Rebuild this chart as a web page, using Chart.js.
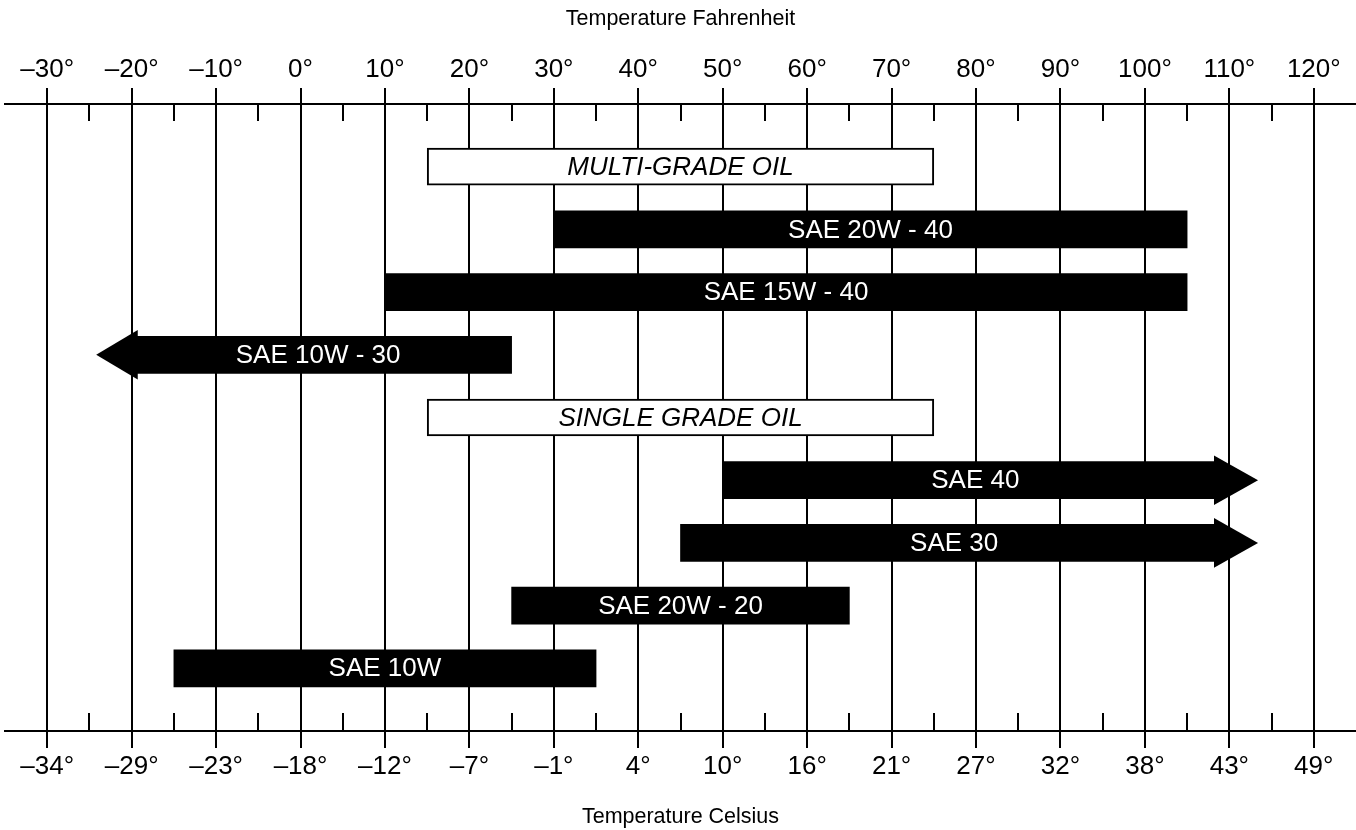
<!DOCTYPE html>
<html>
<head>
<meta charset="utf-8">
<title>Oil viscosity by temperature</title>
<script src="https://cdn.jsdelivr.net/npm/chart.js@4.4.1/dist/chart.umd.min.js"></script>
<style>
  html, body { margin: 0; padding: 0; background: #fff; }
  #wrap { width: 1356px; height: 830px; }
</style>
</head>
<body>
<div id="wrap"><canvas id="chartCanva"></canvas></div>
<script>
// rows, top to bottom
const grades = [
    "MULTI-GRADE OIL",
    "SAE 20W - 40",
    "SAE 15W - 40",
    "SAE 10W - 30",
    "SINGLE GRADE OIL",
    "SAE 40",
    "SAE 30",
    "SAE 20W - 20",
    "SAE 10W",
];
// ranges in °F (start / end of the bar body)
const rangeStart = [15, 30, 10, -19.4, 15, 50, 45, 25, -15];
const rangeEnd = [75, 105, 105, 25, 75, 108.3, 108.3, 65, 35];
// arrow tips in °F (null = plain bar)
const arrowTip = [null, null, null, -24.2, null, 113.4, 113.4, null, null];
// header rows drawn as white boxes
const isHeader = [true, false, false, false, true, false, false, false, false];

// axis ticks
const fahrenheitTicks = [-30, -20, -10, 0, 10, 20, 30, 40, 50, 60, 70, 80, 90, 100, 110, 120];
const fahrenheitLabels = ["–30°", "–20°", "–10°", "0°", "10°", "20°", "30°", "40°", "50°", "60°", "70°", "80°", "90°", "100°", "110°", "120°"];
const celsiusLabels = ["–34°", "–29°", "–23°", "–18°", "–12°", "–7°", "–1°", "4°", "10°", "16°", "21°", "27°", "32°", "38°", "43°", "49°"];

const FONT = "'Liberation Sans', Arial, Helvetica, sans-serif";
Chart.defaults.font.family = FONT;
Chart.defaults.color = "#000";

// one empty slot above and below the rows
const labels = [""].concat(grades, [""]);
const barData = [null].concat(grades.map((g, i) => [rangeStart[i], rangeEnd[i]]), [null]);
const fills = [null].concat(isHeader.map((h) => (h ? "#fff" : "#000")), [null]);
const borders = [0].concat(isHeader.map((h) => (h ? 2 : 0)), [0]);

// minor ticks half way between the labelled ones
const minorTicks = fahrenheitTicks.slice(1).map((v, i) => (v + fahrenheitTicks[i]) / 2);

const overlay = {
    id: "overlay",
    beforeDatasetsDraw(chart) {
        const { ctx, chartArea } = chart;
        const x = chart.scales.x;
        ctx.save();
        ctx.strokeStyle = "#000";
        ctx.lineWidth = 2;
        minorTicks.forEach((v) => {
            const px = Math.round(x.getPixelForValue(v));
            ctx.beginPath();
            ctx.moveTo(px, chartArea.top);
            ctx.lineTo(px, chartArea.top + 17);
            ctx.moveTo(px, chartArea.bottom);
            ctx.lineTo(px, chartArea.bottom - 18);
            ctx.stroke();
        });
        ctx.restore();
    },
    afterDatasetsDraw(chart) {
        const ctx = chart.ctx;
        const x = chart.scales.x;
        const meta = chart.getDatasetMeta(0);
        ctx.save();
        meta.data.forEach((bar, idx) => {
            const i = idx - 1;
            if (i < 0 || i >= grades.length) return;
            const { y, height } = bar.getProps(["y", "height"], true);
            const startPx = x.getPixelForValue(rangeStart[i]);
            const endPx = x.getPixelForValue(rangeEnd[i]);
            let labelX = (startPx + endPx) / 2;

            if (arrowTip[i] !== null) {
                const tipPx = x.getPixelForValue(arrowTip[i]);
                const basePx = arrowTip[i] > rangeEnd[i] ? endPx : startPx;
                const dir = Math.sign(tipPx - basePx);
                const half = (height / 2) * 1.34;
                ctx.fillStyle = "#000";
                ctx.beginPath();
                ctx.moveTo(basePx - dir, y - half);
                ctx.lineTo(tipPx, y);
                ctx.lineTo(basePx - dir, y + half);
                ctx.closePath();
                ctx.fill();
                labelX += (tipPx - basePx) * 0.15;
            }

            ctx.font = (isHeader[i] ? "italic " : "") + "26px " + FONT;
            ctx.fillStyle = isHeader[i] ? "#000" : "#fff";
            ctx.textAlign = "center";
            ctx.textBaseline = "middle";
            ctx.fillText(grades[i], labelX, y + 1);
        });
        ctx.restore();
    },
};

new Chart(document.getElementById("chartCanva"), {
    type: "bar",
    data: {
        labels: labels,
        datasets: [
            {
                label: "Temperature range",
                data: barData,
                backgroundColor: fills,
                borderColor: "#000",
                borderWidth: borders,
                borderSkipped: false,
                barThickness: 37,
                xAxisID: "x",
                yAxisID: "y",
            },
        ],
    },
    options: {
        indexAxis: "y",
        responsive: true,
        maintainAspectRatio: false,
        animation: false,
        layout: { padding: { left: 5, right: 0, top: 0, bottom: 0 } },
        plugins: {
            legend: { display: false },
            tooltip: { enabled: false },
        },
        scales: {
            x: {
                type: "linear",
                position: "top",
                min: -35,
                max: 125,
                afterBuildTicks: (scale) => {
                    scale.ticks = fahrenheitTicks.map((v) => ({ value: v }));
                },
                ticks: {
                    autoSkip: false,
                    maxRotation: 0,
                    padding: 3,
                    font: { size: 26 },
                    color: "#000",
                    callback: (value, index) => fahrenheitLabels[index],
                },
                grid: {
                    color: "#000",
                    lineWidth: 2,
                    tickLength: 16,
                    drawOnChartArea: true,
                },
                border: { display: true, color: "#000", width: 2 },
                title: {
                    display: true,
                    text: "Temperature Fahrenheit",
                    font: { size: 21.5 },
                    color: "#000",
                    padding: { top: 6, bottom: 19 },
                },
            },
            x2: {
                type: "linear",
                position: "bottom",
                min: -35,
                max: 125,
                afterBuildTicks: (scale) => {
                    scale.ticks = fahrenheitTicks.map((v) => ({ value: v }));
                },
                ticks: {
                    autoSkip: false,
                    maxRotation: 0,
                    padding: 3,
                    font: { size: 26 },
                    color: "#000",
                    callback: (value, index) => celsiusLabels[index],
                },
                grid: {
                    color: "#000",
                    lineWidth: 2,
                    tickLength: 17,
                    drawOnChartArea: false,
                },
                border: { display: true, color: "#000", width: 2 },
                title: {
                    display: true,
                    text: "Temperature Celsius",
                    font: { size: 21.5 },
                    color: "#000",
                    padding: { top: 19, bottom: 0 },
                },
            },
            y: {
                type: "category",
                display: false,
                offset: false,
            },
        },
    },
    plugins: [overlay],
});
</script>
</body>
</html>
